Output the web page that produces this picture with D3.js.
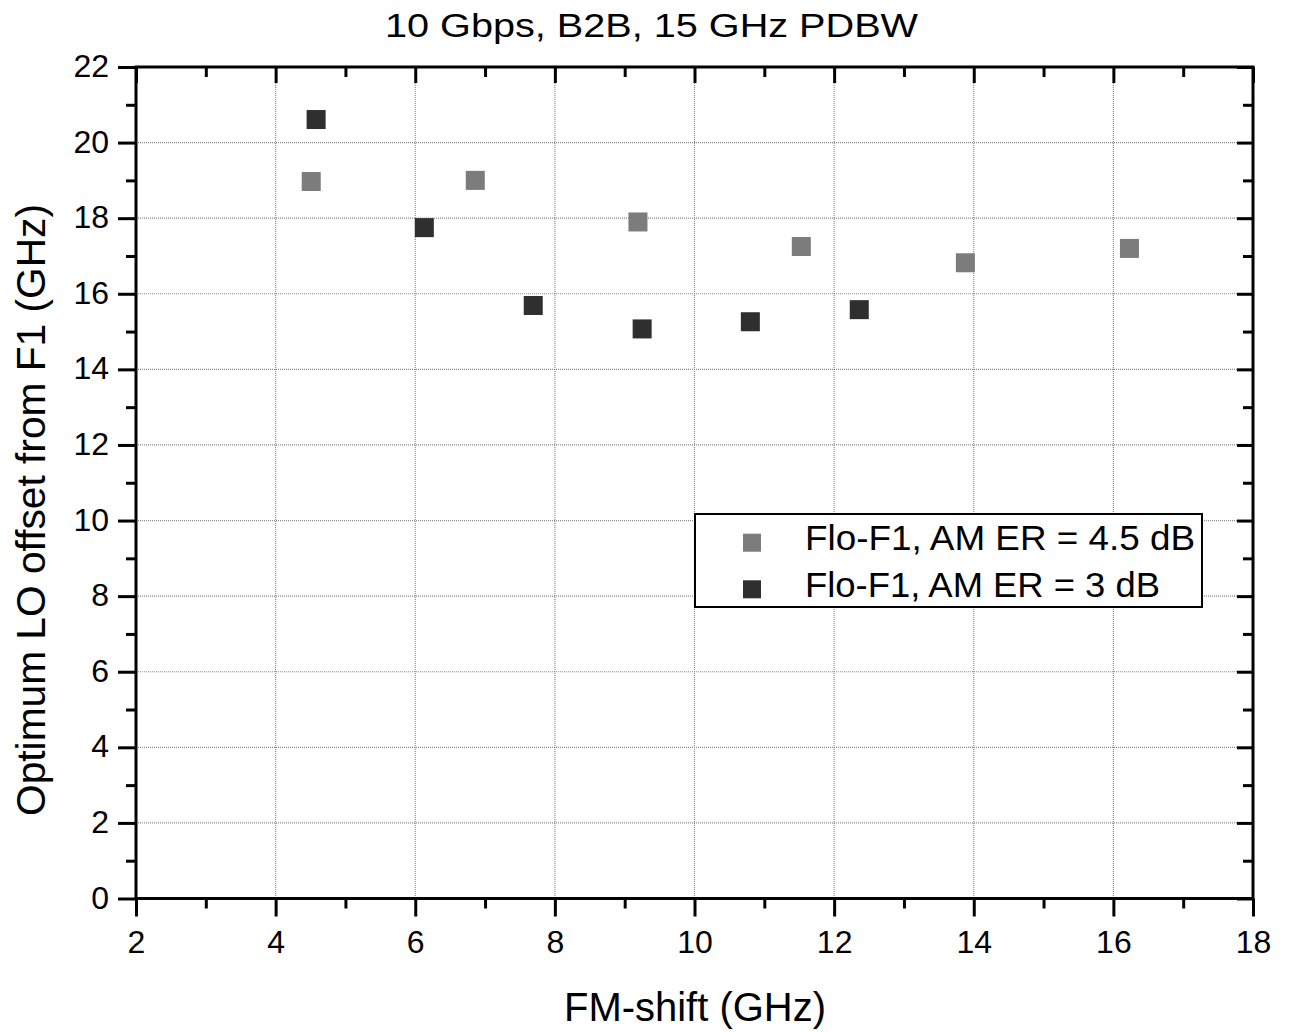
<!DOCTYPE html>
<html><head><meta charset="utf-8">
<script src="https://cdn.jsdelivr.net/npm/d3@7"></script>
<style>body{margin:0;background:#fff}svg{display:block}text{font-family:"Liberation Sans",Arial,sans-serif;fill:#000}</style>
</head><body><svg id="c" width="1289" height="1032"></svg>
<script>
const title = "10 Gbps, B2B, 15 GHz PDBW";
const xTitle = "FM-shift (GHz)";
const yTitle = "Optimum LO offset from F1 (GHz)";
const xTicks = [2,4,6,8,10,12,14,16,18];
const yTicks = [0,2,4,6,8,10,12,14,16,18,20,22];
const seriesNames = ["Flo-F1, AM ER = 4.5 dB", "Flo-F1, AM ER = 3 dB"];
const s1x = [4.51, 6.86, 9.19, 11.53, 13.88, 16.23];
const s1y = [18.97, 19.0, 17.9, 17.25, 16.82, 17.2];
const s2x = [4.58, 6.13, 7.69, 9.25, 10.80, 12.36];
const s2y = [20.61, 17.75, 15.69, 15.07, 15.26, 15.58];
const colors = ["#7c7c7c", "#2f2f2f"];

const svg = d3.select("#c");
const L=136, R=1253, T=67, B=898.5;
const x = d3.scaleLinear().domain([2,18]).range([L,R]);
const y = d3.scaleLinear().domain([0,22]).range([B,T]);
const xMinor = d3.range(3,18,2), yMinor = d3.range(1,22,2);

// grid
const g = svg.append("g");
g.selectAll(".gx").data(xTicks.slice(1,-1)).join("line")
  .attr("x1",d=>x(d)).attr("x2",d=>x(d)).attr("y1",T).attr("y2",B)
  .attr("stroke","#8a8a8a").attr("stroke-width",1.2).attr("stroke-dasharray","1,1");
g.selectAll(".gy").data(yTicks.slice(1,-1)).join("line")
  .attr("y1",d=>y(d)).attr("y2",d=>y(d)).attr("x1",L).attr("x2",R)
  .attr("stroke","#8a8a8a").attr("stroke-width",1.2).attr("stroke-dasharray","1,1");

function styleAxis(sel){
  sel.select(".domain").remove();
  sel.selectAll(".tick line").attr("stroke","#000").attr("stroke-width",3);
  sel.selectAll(".tick text").style("font-size","32px").style("font-family","Liberation Sans, Arial, sans-serif");
}
// bottom
const ax = svg.append("g").attr("transform",`translate(0,${B})`)
  .call(d3.axisBottom(x).tickValues(xTicks).tickSize(18).tickPadding(14).tickFormat(d3.format("d")));
styleAxis(ax);
svg.append("g").attr("transform",`translate(0,${B})`)
  .call(d3.axisBottom(x).tickValues(xMinor).tickSize(10).tickFormat("")).call(styleAxis);
// left
const ay = svg.append("g").attr("transform",`translate(${L},0)`)
  .call(d3.axisLeft(y).tickValues(yTicks).tickSize(18).tickPadding(9).tickFormat(d3.format("d")));
styleAxis(ay);
ay.selectAll(".tick text").attr("dy","0.3em");
svg.append("g").attr("transform",`translate(${L},0)`)
  .call(d3.axisLeft(y).tickValues(yMinor).tickSize(10).tickFormat("")).call(styleAxis);
// top (inward)
svg.append("g").attr("transform",`translate(0,${T})`)
  .call(d3.axisBottom(x).tickValues(xTicks).tickSize(16).tickFormat("")).call(styleAxis);
svg.append("g").attr("transform",`translate(0,${T})`)
  .call(d3.axisBottom(x).tickValues(xMinor).tickSize(10).tickFormat("")).call(styleAxis);
// right (inward)
svg.append("g").attr("transform",`translate(${R},0)`)
  .call(d3.axisLeft(y).tickValues(yTicks).tickSize(16).tickFormat("")).call(styleAxis);
svg.append("g").attr("transform",`translate(${R},0)`)
  .call(d3.axisLeft(y).tickValues(yMinor).tickSize(10).tickFormat("")).call(styleAxis);

// frame
svg.append("rect").attr("x",L).attr("y",T).attr("width",R-L).attr("height",B-T)
  .attr("fill","none").attr("stroke","#000").attr("stroke-width",3);

// points
const sq = 19;
const data = [s1x.map((v,i)=>({x:v,y:s1y[i],s:0})), s2x.map((v,i)=>({x:v,y:s2y[i],s:1}))];
data.forEach(ds=>{
  svg.append("g").selectAll("rect").data(ds).join("rect")
    .attr("x",d=>x(d.x)-sq/2).attr("y",d=>y(d.y)-sq/2).attr("width",sq).attr("height",sq)
    .attr("fill",d=>colors[d.s]);
});

// legend
const lg = svg.append("g");
lg.append("rect").attr("x",695).attr("y",514).attr("width",507).attr("height",93)
  .attr("fill","#fff").attr("stroke","#000").attr("stroke-width",2);
const legLen = [390, 355];
seriesNames.forEach((n,i)=>{
  const cy = 542.7 + i*46.6;
  lg.append("rect").attr("x",752-9).attr("y",cy-9).attr("width",18).attr("height",18).attr("fill",colors[i]);
  lg.append("text").attr("x",805).attr("y",550 + i*46.6).style("font-size","35px")
    .attr("textLength",legLen[i]).attr("lengthAdjust","spacingAndGlyphs").text(n);
});

// titles
svg.append("text").attr("x",651.5).attr("y",37).attr("text-anchor","middle").style("font-size","34px")
  .attr("textLength",533).attr("lengthAdjust","spacingAndGlyphs").text(title);
svg.append("text").attr("x",695).attr("y",1021).attr("text-anchor","middle").style("font-size","40px")
  .attr("textLength",262).attr("lengthAdjust","spacingAndGlyphs").text(xTitle);
svg.append("text").attr("transform","translate(45,510) rotate(-90)").attr("text-anchor","middle").style("font-size","40px")
  .attr("textLength",612).attr("lengthAdjust","spacingAndGlyphs").text(yTitle);
</script></body></html>
